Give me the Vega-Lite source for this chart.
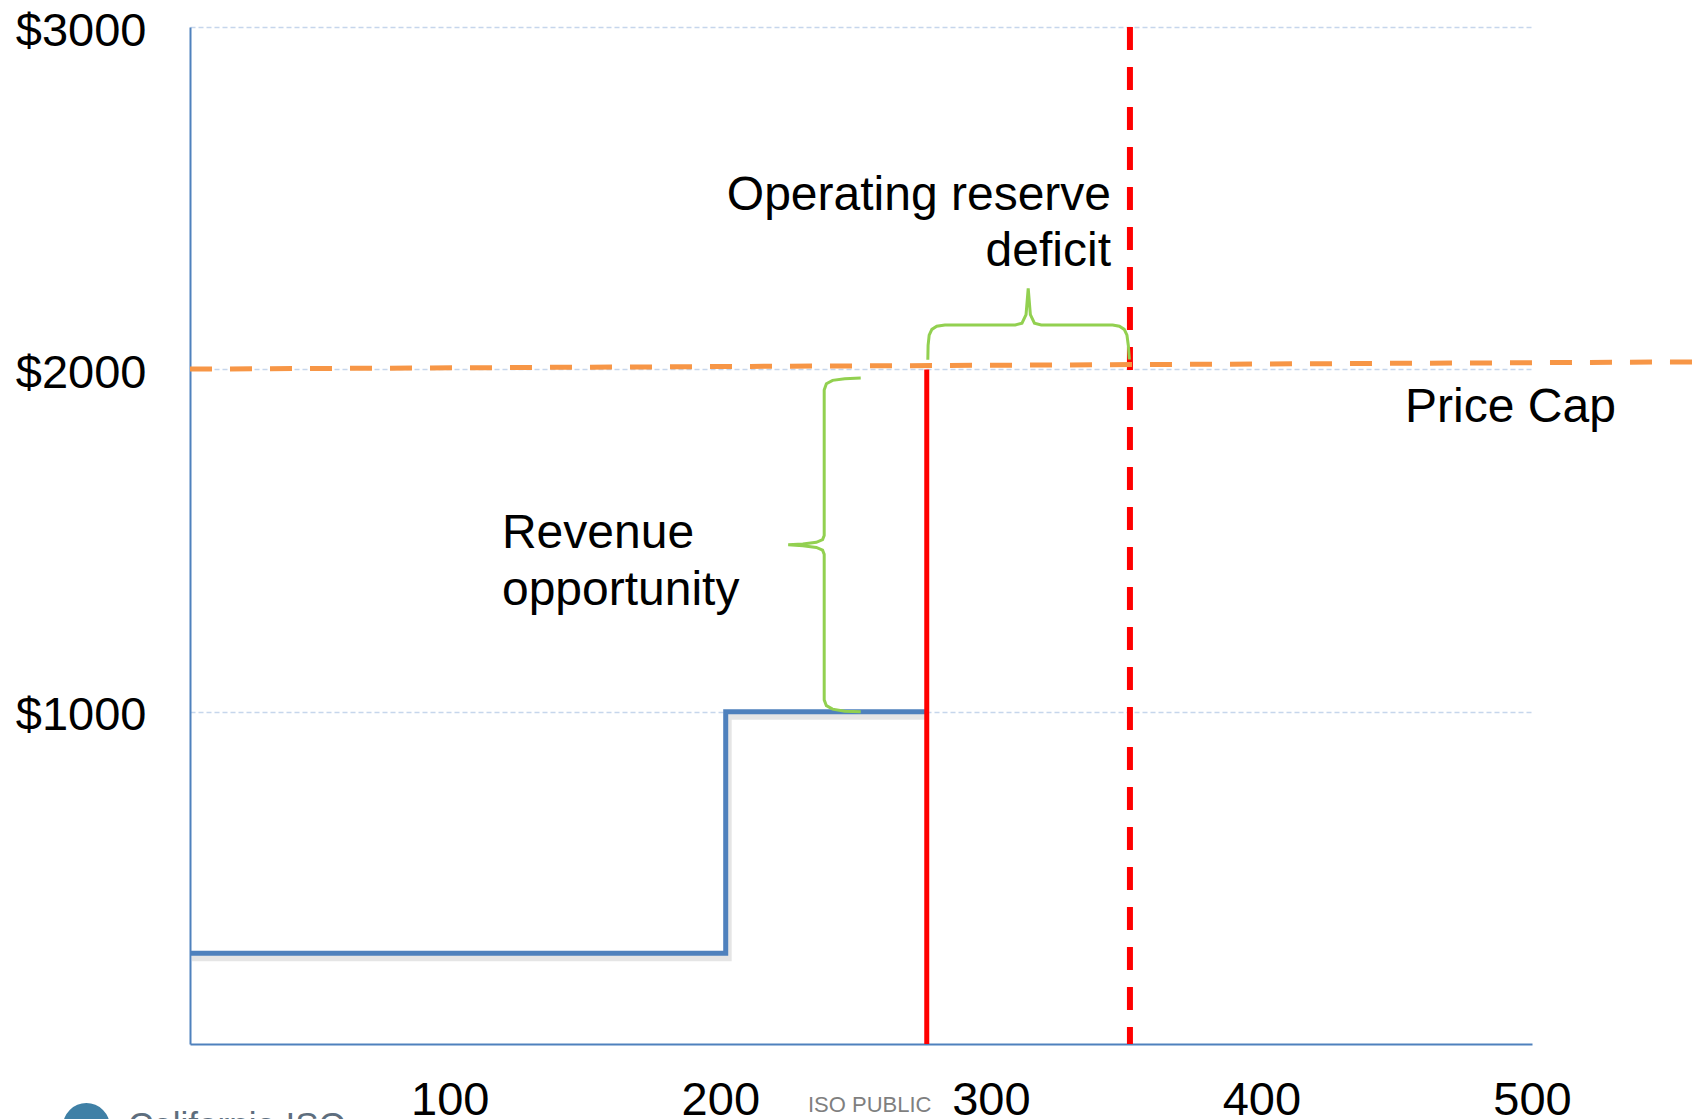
{
  "$schema": "https://vega.github.io/schema/vega-lite/v6.json",
  "width": 1342,
  "height": 1017,
  "autosize": {"type": "none"},
  "padding": {"left": 190, "top": 27, "right": 168, "bottom": 75},
  "background": "white",
  "config": {"view": {"stroke": null}, "font": "Liberation Sans"},
  "layer": [
    {
      "data": {"values": [{"x": 4, "y": 295}, {"x": 202, "y": 1000}, {"x": 276.3, "y": 1000}]},
      "mark": {"type": "line", "interpolate": "step-after", "color": "#000000", "opacity": 0.1, "strokeWidth": 8, "xOffset": 2, "yOffset": 4, "clip": false},
      "encoding": {
        "x": {"field": "x", "type": "quantitative", "scale": {"domain": [4, 500], "nice": false, "zero": false},
          "axis": {"values": [100, 200, 300, 400, 500], "title": null, "grid": false, "ticks": false, "tickSize": 0, "labelFontSize": 47, "labelFont": "Liberation Sans", "labelColor": "#000000", "labelBaseline": "top", "labelPadding": 33, "labelFlush": false, "labelOverlap": false, "domainColor": "#4F81BD", "domainWidth": 2}},
        "y": {"field": "y", "type": "quantitative", "scale": {"domain": [30, 3000], "nice": false, "zero": false},
          "axis": {"values": [1000, 2000, 3000], "labelExpr": "'$' + datum.value", "title": null, "grid": true, "gridColor": "#C6D6EC", "gridDash": [5, 3], "gridWidth": 1.5, "ticks": false, "tickSize": 0, "labelFontSize": 47, "labelFont": "Liberation Sans", "labelColor": "#000000", "labelBaseline": "middle", "labelOffset": 4, "labelPadding": 44, "labelFlush": false, "labelOverlap": false, "domainColor": "#4F81BD", "domainWidth": 2}}
      }
    },
    {
      "data": {"values": [{"x": 4, "y": 295}, {"x": 202, "y": 1000}, {"x": 276.3, "y": 1000}]},
      "mark": {"type": "line", "interpolate": "step-after", "color": "#4F81BD", "strokeWidth": 5, "clip": false},
      "encoding": {
        "x": {"field": "x", "type": "quantitative"},
        "y": {"field": "y", "type": "quantitative"}
      }
    },
    {
      "data": {"values": [{"x": 276.3, "y": 2000, "y2": 30}]},
      "mark": {"type": "rule", "color": "#FF0000", "strokeWidth": 5},
      "encoding": {
        "x": {"field": "x", "type": "quantitative"},
        "y": {"field": "y", "type": "quantitative"},
        "y2": {"field": "y2"}
      }
    },
    {
      "data": {"values": [{"x": 351.4, "y": 3000, "y2": 30}]},
      "mark": {"type": "rule", "color": "#FF0000", "strokeWidth": 6, "strokeDash": [23, 17]},
      "encoding": {
        "x": {"field": "x", "type": "quantitative"},
        "y": {"field": "y", "type": "quantitative"},
        "y2": {"field": "y2"}
      }
    },
    {
      "data": {"values": [{"x": 4, "y": 2001}, {"x": 562, "y": 2022}]},
      "mark": {"type": "line", "color": "#F79646", "strokeWidth": 5, "strokeDash": [22, 18], "clip": false},
      "encoding": {
        "x": {"field": "x", "type": "quantitative"},
        "y": {"field": "y", "type": "quantitative"}
      }
    },
    {
      "data": {"values": [
        {"b": "rev", "i": 0, "x": 251.9, "y": 1975},
        {"b": "rev", "i": 1, "x": 246, "y": 1973},
        {"b": "rev", "i": 2, "x": 241.5, "y": 1968},
        {"b": "rev", "i": 3, "x": 239.2, "y": 1958},
        {"b": "rev", "i": 4, "x": 238.4, "y": 1940},
        {"b": "rev", "i": 5, "x": 238.4, "y": 1515},
        {"b": "rev", "i": 6, "x": 237.8, "y": 1503},
        {"b": "rev", "i": 7, "x": 235.5, "y": 1495},
        {"b": "rev", "i": 8, "x": 230.5, "y": 1490},
        {"b": "rev", "i": 9, "x": 225.1, "y": 1488},
        {"b": "rev", "i": 10, "x": 230.5, "y": 1485},
        {"b": "rev", "i": 11, "x": 235.5, "y": 1480},
        {"b": "rev", "i": 12, "x": 237.8, "y": 1472},
        {"b": "rev", "i": 13, "x": 238.4, "y": 1460},
        {"b": "rev", "i": 14, "x": 238.4, "y": 1035},
        {"b": "rev", "i": 15, "x": 239.2, "y": 1018},
        {"b": "rev", "i": 16, "x": 241.5, "y": 1008},
        {"b": "rev", "i": 17, "x": 246, "y": 1002},
        {"b": "rev", "i": 18, "x": 251.9, "y": 1000},
        {"b": "def", "i": 0, "x": 276.7, "y": 2028},
        {"b": "def", "i": 1, "x": 276.8, "y": 2070},
        {"b": "def", "i": 2, "x": 277.2, "y": 2100},
        {"b": "def", "i": 3, "x": 278.2, "y": 2117},
        {"b": "def", "i": 4, "x": 280, "y": 2126},
        {"b": "def", "i": 5, "x": 283, "y": 2130},
        {"b": "def", "i": 6, "x": 309, "y": 2130},
        {"b": "def", "i": 7, "x": 311.5, "y": 2135},
        {"b": "def", "i": 8, "x": 313, "y": 2160},
        {"b": "def", "i": 9, "x": 313.8, "y": 2237},
        {"b": "def", "i": 10, "x": 314.6, "y": 2160},
        {"b": "def", "i": 11, "x": 316.1, "y": 2135},
        {"b": "def", "i": 12, "x": 318.6, "y": 2130},
        {"b": "def", "i": 13, "x": 345, "y": 2130},
        {"b": "def", "i": 14, "x": 347.5, "y": 2126},
        {"b": "def", "i": 15, "x": 349.3, "y": 2117},
        {"b": "def", "i": 16, "x": 350.3, "y": 2100},
        {"b": "def", "i": 17, "x": 350.8, "y": 2070},
        {"b": "def", "i": 18, "x": 351.2, "y": 2029}
      ]},
      "mark": {"type": "line", "color": "#92D050", "strokeWidth": 3, "clip": false},
      "encoding": {
        "x": {"field": "x", "type": "quantitative"},
        "y": {"field": "y", "type": "quantitative"},
        "detail": {"field": "b"},
        "order": {"field": "i", "type": "quantitative"}
      }
    },
    {
      "data": {"values": [
        {"x": 344.4, "y": 2465, "t": "Operating reserve"},
        {"x": 344.4, "y": 2302, "t": "deficit"}
      ]},
      "mark": {"type": "text", "align": "right", "baseline": "alphabetic", "fontSize": 48, "font": "Liberation Sans", "color": "#000000", "clip": false},
      "encoding": {
        "x": {"field": "x", "type": "quantitative"},
        "y": {"field": "y", "type": "quantitative"},
        "text": {"field": "t"}
      }
    },
    {
      "data": {"values": [
        {"x": 119.3, "y": 1478, "t": "Revenue"},
        {"x": 119.3, "y": 1312, "t": "opportunity"},
        {"x": 453.1, "y": 1846, "t": "Price Cap"}
      ]},
      "mark": {"type": "text", "align": "left", "baseline": "alphabetic", "fontSize": 48, "font": "Liberation Sans", "color": "#000000", "clip": false},
      "encoding": {
        "x": {"field": "x", "type": "quantitative"},
        "y": {"field": "y", "type": "quantitative"},
        "text": {"field": "t"}
      }
    },
    {
      "data": {"values": [{"x": 232.4, "y": -169, "t": "ISO PUBLIC"}]},
      "mark": {"type": "text", "align": "left", "baseline": "alphabetic", "fontSize": 22, "font": "Liberation Sans", "color": "#7F7F7F", "clip": false},
      "encoding": {
        "x": {"field": "x", "type": "quantitative"},
        "y": {"field": "y", "type": "quantitative"},
        "text": {"field": "t"}
      }
    },
    {
      "data": {"values": [{"x": -18.9, "y": -242, "t": "California ISO"}]},
      "mark": {"type": "text", "align": "left", "baseline": "alphabetic", "fontSize": 35, "font": "Liberation Sans", "color": "#5E6E7E", "clip": false},
      "encoding": {
        "x": {"field": "x", "type": "quantitative"},
        "y": {"field": "y", "type": "quantitative"},
        "text": {"field": "t"}
      }
    },
    {
      "data": {"values": [{"x": -34.3, "y": -211}]},
      "mark": {"type": "point", "shape": "circle", "filled": true, "size": 2209, "color": "#3F80A6", "opacity": 1, "clip": false},
      "encoding": {
        "x": {"field": "x", "type": "quantitative"},
        "y": {"field": "y", "type": "quantitative"}
      }
    }
  ]
}
